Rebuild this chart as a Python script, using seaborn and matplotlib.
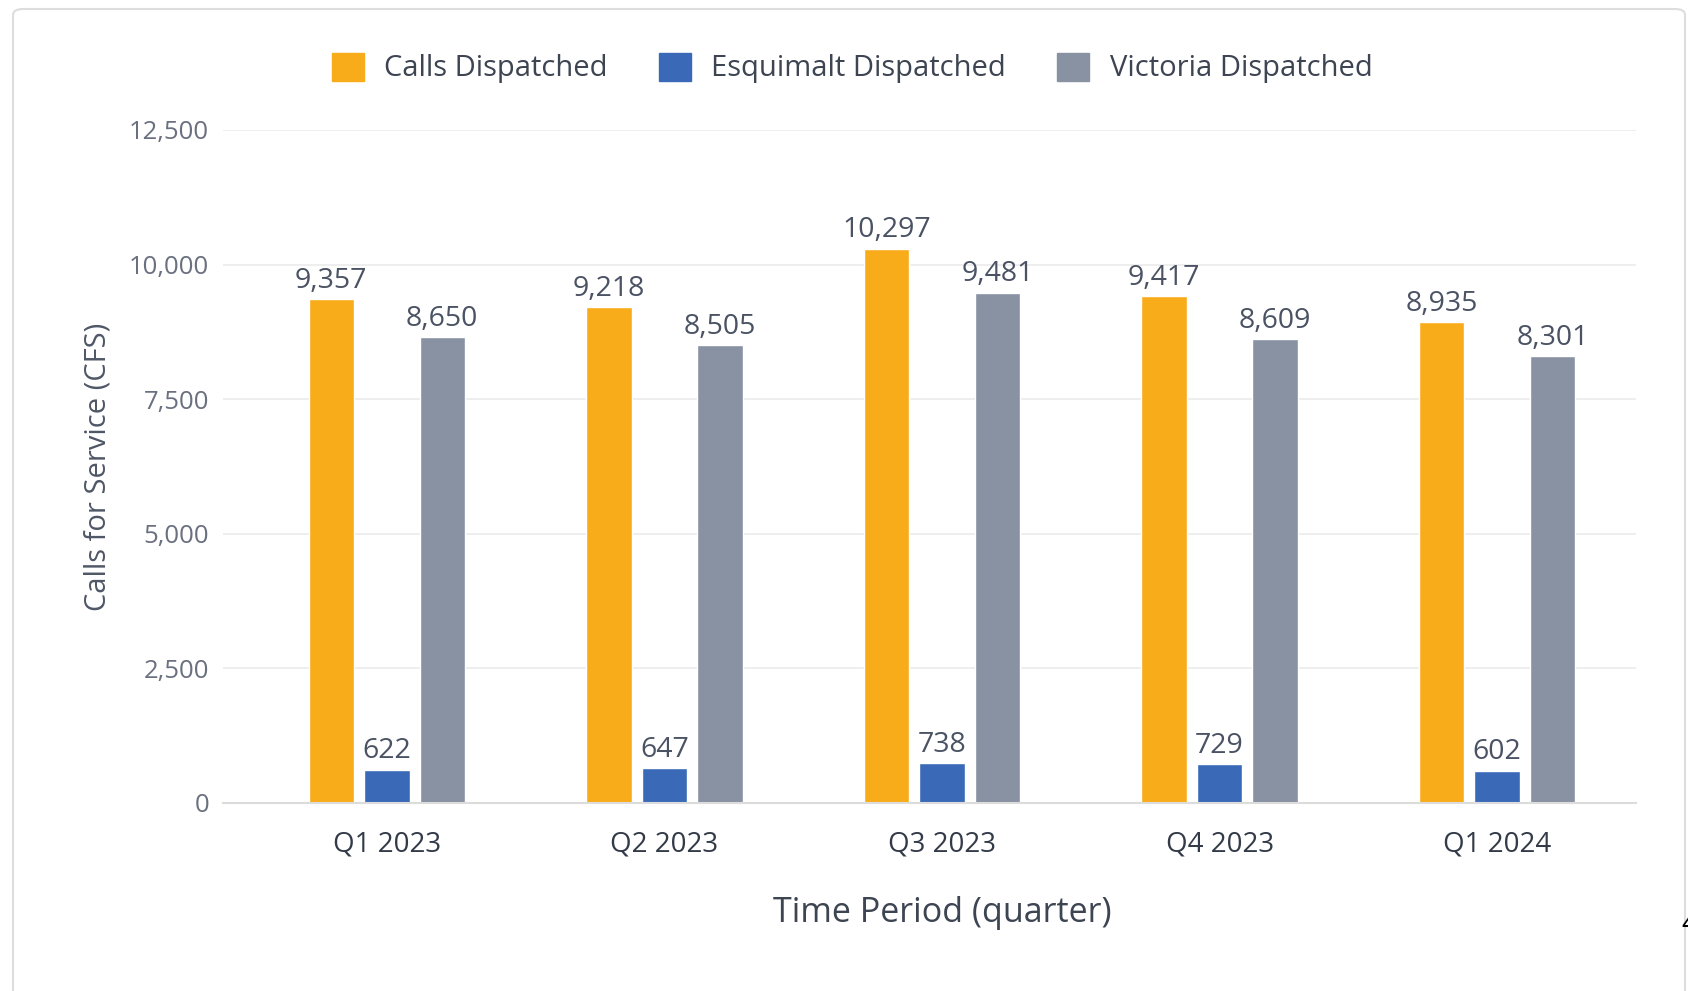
import matplotlib
matplotlib.use("Agg")
import matplotlib.pyplot as plt
from matplotlib.patches import FancyBboxPatch
from matplotlib.ticker import FuncFormatter, FixedLocator
import seaborn as sns
import pandas as pd

quarters = ["Q1 2023", "Q2 2023", "Q3 2023", "Q4 2023", "Q1 2024"]
series = ["Calls Dispatched", "Esquimalt Dispatched", "Victoria Dispatched"]
calls = [9357, 9218, 10297, 9417, 8935]
esquimalt = [622, 647, 738, 729, 602]
victoria = [8650, 8505, 9481, 8609, 8301]
colors = ["#F9AC1A", "#3A6AB7", "#8892A2"]

df = pd.DataFrame({
    "quarter": quarters * 3,
    "series": [s for s in series for _ in quarters],
    "value": calls + esquimalt + victoria,
})

sns.set_style("white")
plt.rcParams["font.family"] = ["Open Sans", "DejaVu Sans"]

W, H = 1688, 991
fig = plt.figure(figsize=(W / 100, H / 100), dpi=100)
ax = fig.add_axes([223 / W, 1 - 803 / H, (1636 - 223) / W, (803 - 130) / H])

sns.barplot(data=df, x="quarter", y="value", hue="series", palette=colors,
            width=0.6, gap=0.18, ax=ax, legend=False, saturation=1)

# value labels above each bar
for cont in ax.containers:
    ax.bar_label(cont, fmt="{:,.0f}", padding=3, fontsize=20.5, color="#4a5263")

ax.set_ylim(0, 12500)
ax.set_xlim(-0.59, 4.5)
ax.yaxis.set_major_locator(FixedLocator([0, 2500, 5000, 7500, 10000, 12500]))
ax.yaxis.set_major_formatter(FuncFormatter(lambda v, p: f"{v:,.0f}"))
ax.grid(axis="y", color="#ebebeb", linewidth=1.2)
ax.set_axisbelow(True)
for s in ["top", "right", "left"]:
    ax.spines[s].set_visible(False)
ax.spines["bottom"].set_color("#dcdcdc")
ax.spines["bottom"].set_linewidth(1.5)

ax.tick_params(axis="y", length=0, pad=10, labelsize=18.5, labelcolor="#6a7080")
ax.tick_params(axis="x", which="major", length=0, pad=20, labelsize=20, labelcolor="#333a48")
ax.set_xticks([-0.5, 0.5, 1.5, 2.5, 3.5, 4.5], minor=True)
ax.tick_params(axis="x", which="minor", length=19, width=1, color="#e6e6e6")

ax.set_ylabel("Calls for Service (CFS)", fontsize=21, color="#4f5766")
ax.yaxis.set_label_coords(-0.0785, 0.5)
ax.set_xlabel("Time Period (quarter)", fontsize=24.5, color="#3d4452")
ax.xaxis.set_label_coords(0.509, -0.138)

handles = [plt.Rectangle((0, 0), 1, 1, color=c) for c in colors]
fig.legend(handles, series, loc="center", bbox_to_anchor=(852 / W, 1 - 68 / H),
           ncol=3, frameon=False, fontsize=21, labelcolor="#3d4452",
           handlelength=1.1, handleheight=1.1, handletextpad=0.7, columnspacing=1.75)

# card border around the chart
card = FancyBboxPatch((13 / W, -0.05), (1685 - 13) / W, 1.05 - 9 / H,
                      boxstyle="round,pad=0,rounding_size=0.006",
                      transform=fig.transFigure, facecolor="none",
                      edgecolor="#dddddd", linewidth=1.5)
fig.patches.append(card)
fig.text(1681 / W, 1 - 925 / H, "4", fontsize=20, color="black", va="center", ha="left")

fig.savefig("out.png", dpi=100)
